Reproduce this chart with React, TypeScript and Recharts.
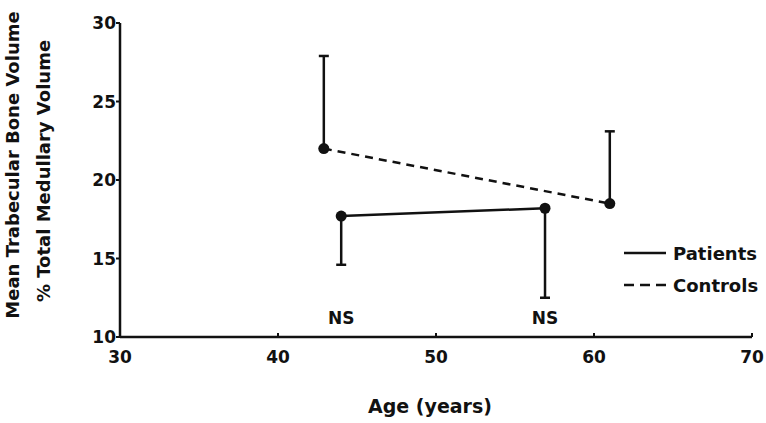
import React from "react";
import { ComposedChart, Scatter, XAxis, YAxis, ErrorBar, Legend } from "recharts";

// ---- data ----
const patientAges = [44.0, 56.9];
const patientMeans = [17.7, 18.2];
const patientErrDown = [3.1, 5.7];

const controlAges = [42.9, 61.0];
const controlMeans = [22.0, 18.5];
const controlErrUp = [5.9, 4.6];

const nsAges = [44.0, 56.9];
const nsLevel = [11.2, 11.2];
const nsText = ["NS", "NS"];

const xTicks = [30, 40, 50, 60, 70];
const yTicks = [10, 15, 20, 25, 30];

const xLabel = "Age (years)";
const yLabel1 = "Mean Trabecular Bone Volume";
const yLabel2 = "% Total Medullary Volume";

const patientsName = "Patients";
const controlsName = "Controls";
const legendOrder = [patientsName, controlsName];

const patients = patientAges.map((a, i) => ({ age: a, v: patientMeans[i], err: [patientErrDown[i], 0] }));
const controls = controlAges.map((a, i) => ({ age: a, v: controlMeans[i], err: [0, controlErrUp[i]] }));
const ns = nsAges.map((a, i) => ({ age: a, v: nsLevel[i], t: nsText[i] }));

const FONT = "'DejaVu Sans', sans-serif";
const INK = "#111";

const legendDashes: Record<string, string | undefined> = {
  [patientsName]: undefined,
  [controlsName]: "10 6",
};

const Dot = (p: any) => <circle cx={p.cx} cy={p.cy} r={5.5} fill={INK} />;

const NsShape = (p: any) => (
  <text x={p.cx} y={p.cy} dy={6} textAnchor="middle" fontFamily={FONT} fontWeight="bold" fontSize={17} fill={INK}>
    {p.payload.t}
  </text>
);

const XTick = (p: any) => (
  <g>
    <line x1={p.x} x2={p.x} y1={p.y} y2={p.y - 4} stroke={INK} strokeWidth={2} />
    <text x={p.x} y={p.y + 26} textAnchor="middle" fontFamily={FONT} fontWeight="bold" fontSize={17} fill={INK}>
      {p.payload.value}
    </text>
  </g>
);

const YLabel = () => {
  const cy1 = 165;
  const cy2 = 171;
  return (
    <g fontFamily={FONT} fontWeight="bold" fontSize={18} fill={INK}>
      <text x={19} y={cy1} textAnchor="middle" transform={`rotate(-90 19 ${cy1})`}>{yLabel1}</text>
      <text x={50} y={cy2} textAnchor="middle" transform={`rotate(-90 50 ${cy2})`}>{yLabel2}</text>
    </g>
  );
};

const XLabel = (p: any) => {
  const vb = p.viewBox || { x: 120, y: 337, width: 632 };
  const cx = vb.x + vb.width / 2 - 6;
  return (
    <text x={cx} y={vb.y + 76} textAnchor="middle" fontFamily={FONT} fontWeight="bold" fontSize={19} fill={INK}>
      {xLabel}
    </text>
  );
};

const LegendContent = (p: any) => {
  const items = (p.payload || [])
    .filter((e: any) => legendOrder.includes(e.value))
    .sort((a: any, b: any) => legendOrder.indexOf(a.value) - legendOrder.indexOf(b.value));
  return (
    <div>
      {items.map((e: any) => (
        <div key={e.value} style={{ display: "flex", alignItems: "center", height: 32 }}>
          <svg width={44} height={10} style={{ marginRight: 5 }}>
            <line x1={0} x2={42} y1={5} y2={5} stroke={INK} strokeWidth={2.5} strokeDasharray={legendDashes[e.value]} />
          </svg>
          <span style={{ fontFamily: FONT, fontWeight: "bold", fontSize: 18, color: INK }}>{e.value}</span>
        </div>
      ))}
    </div>
  );
};

export default function App() {
  return (
    <div style={{ position: "absolute", left: 0, top: 0, background: "#fff" }}>
      <ComposedChart width={766} height={423} margin={{ top: 23, right: 14, bottom: 0, left: 0 }}>
        <XAxis
          type="number"
          dataKey="age"
          domain={[30, 70]}
          ticks={xTicks}
          height={86}
          axisLine={{ stroke: INK, strokeWidth: 2.5 }}
          tickLine={false}
          tickSize={0}
          tickMargin={0}
          tick={<XTick />}
          label={<XLabel />}
          allowDataOverflow
        />
        <YAxis
          type="number"
          dataKey="v"
          domain={[10, 30]}
          ticks={yTicks}
          width={120}
          axisLine={{ stroke: INK, strokeWidth: 2.5 }}
          tickLine={{ stroke: INK, strokeWidth: 2 }}
          tickSize={4}
          tickMargin={0}
          tick={{ fontFamily: FONT, fontWeight: "bold", fontSize: 17, fill: INK }}
          label={<YLabel />}
          allowDataOverflow
        />
        <Legend
          layout="horizontal"
          verticalAlign="middle"
          align="center"
          content={<LegendContent />}
          wrapperStyle={{ position: "absolute", left: 624, top: 237, width: 150, height: 64 }}
        />
        <Scatter
          name={patientsName}
          data={patients}
          fill={INK}
          shape={<Dot />}
          line={{ stroke: INK, strokeWidth: 2.5 }}
          isAnimationActive={false}
        >
          <ErrorBar dataKey="err" direction="y" width={5} stroke={INK} strokeWidth={2.5} />
        </Scatter>
        <Scatter
          name={controlsName}
          data={controls}
          fill={INK}
          shape={<Dot />}
          line={{ stroke: INK, strokeWidth: 2.5, strokeDasharray: "8 6" }}
          isAnimationActive={false}
        >
          <ErrorBar dataKey="err" direction="y" width={5} stroke={INK} strokeWidth={2.5} />
        </Scatter>
        <Scatter name="ns" data={ns} shape={<NsShape />} legendType="none" isAnimationActive={false} />
      </ComposedChart>
    </div>
  );
}
